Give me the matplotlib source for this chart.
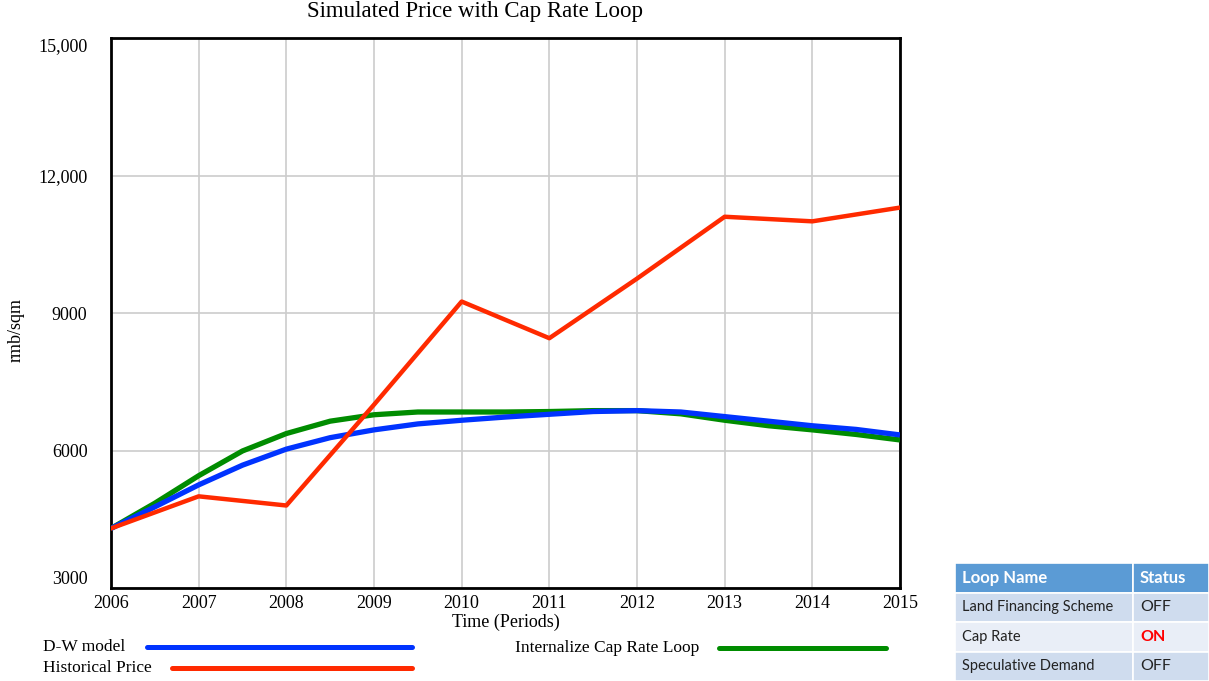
import matplotlib.pyplot as plt
from matplotlib.lines import Line2D
from matplotlib.patches import Rectangle

# simulated runs (half-year samples) and historical yearly price
t_sim = [2006, 2006.5, 2007, 2007.5, 2008, 2008.5, 2009, 2009.5, 2010, 2010.5,
         2011, 2011.5, 2012, 2012.5, 2013, 2013.5, 2014, 2014.5, 2015]
dw_model = [4300, 4770, 5250, 5680, 6030, 6280, 6450, 6580, 6660, 6730,
            6790, 6850, 6870, 6840, 6740, 6640, 6540, 6460, 6340]
cap_rate_loop = [4300, 4850, 5450, 5990, 6370, 6640, 6780, 6840, 6840, 6840,
                 6850, 6870, 6870, 6800, 6660, 6540, 6450, 6350, 6230]

years = [2006, 2007, 2008, 2009, 2010, 2011, 2012, 2013, 2014, 2015]
historical = [4300, 5000, 4800, 7000, 9250, 8450, 9750, 11100, 11000, 11300]

y_ticks = [3000, 6000, 9000, 12000, 15000]
y_labels = ['3000', '6000', '9000', '12,000', '15,000']

table_rows = [('Land Financing Scheme', 'OFF'), ('Cap Rate', 'ON'), ('Speculative Demand', 'OFF')]

serif = 'Liberation Serif'
blue, green, red = '#0033ff', '#008c00', '#ff2a00'

fig = plt.figure(figsize=(12.09, 6.81), dpi=100)
ax = fig.add_axes([111 / 1209, 1 - 588 / 681, 789 / 1209, 550 / 681])

ax.plot(t_sim, cap_rate_loop, color=green, lw=3.8, solid_capstyle='butt', zorder=3)
ax.plot(t_sim, dw_model, color=blue, lw=3.8, solid_capstyle='butt', zorder=4)
ax.plot(years, historical, color=red, lw=3.2, zorder=5)

ax.set_xlim(2006, 2015)
ax.set_ylim(3000, 15000)
ax.set_xticks(years)
ax.set_yticks(y_ticks)
ax.set_xticklabels([str(y) for y in years], fontfamily=serif, fontsize=13)
ax.set_yticklabels(y_labels, fontfamily=serif, fontsize=13)
ax.tick_params(axis='x', length=0, pad=5)
ax.tick_params(axis='y', length=0, pad=17)
ylabs = ax.get_yticklabels()
ylabs[0].set_va('bottom')
ylabs[-1].set_va('top')
ax.grid(True, color='#cccccc', lw=1.2)
ax.set_axisbelow(True)
for s in ax.spines.values():
    s.set_linewidth(2)
    s.set_color('black')

ax.set_xlabel('Time (Periods)', fontfamily=serif, fontsize=13)
ax.set_ylabel('rmb/sqm', fontfamily=serif, fontsize=13)
ax.xaxis.set_label_coords(0.5, -0.047)
ax.yaxis.set_label_coords(-0.110, 0.469)
fig.text(475 / 1209, 1 - 12 / 681, 'Simulated Price with Cap Rate Loop',
         fontfamily=serif, fontsize=16.5, ha='center', va='center')

# legend entries drawn below the plot
def legend_entry(label, tx, x0, x1, y, color):
    yy = 1 - y / 681
    fig.text(tx / 1209, yy, label, fontfamily=serif, fontsize=12.5, va='center')
    fig.add_artist(Line2D([x0 / 1209, x1 / 1209], [yy, yy], color=color, lw=3.6,
                          solid_capstyle='round'))

legend_entry('D-W model', 43, 147, 412, 647, blue)
legend_entry('Historical Price', 43, 172, 412, 668, red)
legend_entry('Internalize Cap Rate Loop', 515, 719, 886, 648, green)

# loop status table
tx0, tx1, tx2 = 955, 1133, 1209
row_h = 29.5
top = 563
cells = [('Loop Name', 'Status', '#5b9bd5')] + [
    (n, s, '#cfdcee' if i % 2 == 0 else '#e9eef7') for i, (n, s) in enumerate(table_rows)]
for i, (name, status, bg) in enumerate(cells):
    y0 = top + i * row_h
    for xa, xb in ((tx0, tx1), (tx1, tx2)):
        fig.add_artist(Rectangle((xa / 1209, 1 - (y0 + row_h) / 681), (xb - xa) / 1209,
                                 row_h / 681, facecolor=bg, edgecolor='white', lw=1.2))
    yc = 1 - (y0 + row_h / 2) / 681
    if i == 0:
        kw = dict(color='white', fontweight='bold', fontsize=12)
        skw = kw
    else:
        kw = dict(color='#222222', fontsize=10.5)
        skw = dict(color='#ff0000', fontweight='bold', fontsize=11.5) if status == 'ON' \
            else dict(color='#222222', fontsize=11.5)
    fig.text((tx0 + 7) / 1209, yc, name, fontfamily='Lato', va='center', **kw)
    fig.text((tx1 + 7) / 1209, yc, status, fontfamily='Lato', va='center', **skw)

fig.savefig('out.png', dpi=100)
